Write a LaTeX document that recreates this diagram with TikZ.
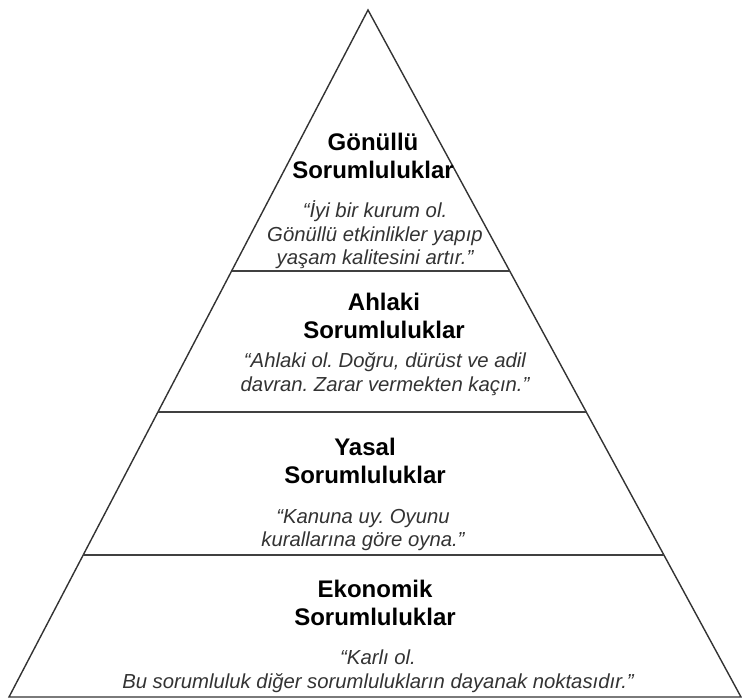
\documentclass[tikz,border=0pt]{standalone}
\usepackage{fontspec}
\setmainfont{Liberation Sans}
\frenchspacing
\usetikzlibrary{calc}
\tikzset{
  edge/.style={draw=black!80,line width=1.4pt,line join=miter},
  sep/.style={draw=black!75,line width=1.6pt},
  ttl/.style={font=\fontsize{24}{28.5}\selectfont\bfseries,align=center,inner sep=0pt},
  qte/.style={font=\fontsize{20.3}{23.5}\selectfont\itshape,text=black!80,align=center,inner sep=0pt},
}

\begin{document}
\begin{tikzpicture}[x=1pt,y=-1pt]
  \useasboundingbox (0,0) rectangle (742,700);
  % pyramid outline
  \coordinate (apex) at (368,10);
  \coordinate (bl) at (9,697);
  \coordinate (br) at (741,697);
  \draw[edge] (apex) -- (bl) -- (br) -- cycle;
  % layer separators
  \foreach \t/\n in {0.380/a,0.585/b,0.793/c}{
    \coordinate (l\n) at ($(apex)!\t!(bl)$);
    \coordinate (r\n) at ($(apex)!\t!(br)$);
    \draw[sep] (l\n) -- (r\n);
  }
  % layer texts
  \node[ttl] (gonullu) at (373,156) {Gönüllü\\Sorumluluklar};
  \node[qte] (q-gonullu) at (375,235) {“İyi bir kurum ol.\\Gönüllü etkinlikler yapıp\\yaşam kalitesini artır.”};
  \node[ttl] (ahlaki) at (384,316) {Ahlaki\\Sorumluluklar};
  \node[qte] (q-ahlaki) at (385,374) {“Ahlaki ol. Doğru, dürüst ve adil\\davran. Zarar vermekten kaçın.”};
  \node[ttl] (yasal) at (365,461) {Yasal\\Sorumluluklar};
  \node[qte] (q-yasal) at (363,530) {“Kanuna uy. Oyunu\\kurallarına göre oyna.”};
  \node[ttl] (ekonomik) at (375,603) {Ekonomik\\Sorumluluklar};
  \node[qte] (q-ekonomik) at (378,671) {“Karlı ol.\\Bu sorumluluk diğer sorumlulukların dayanak noktasıdır.”};
\end{tikzpicture}
\end{document}
